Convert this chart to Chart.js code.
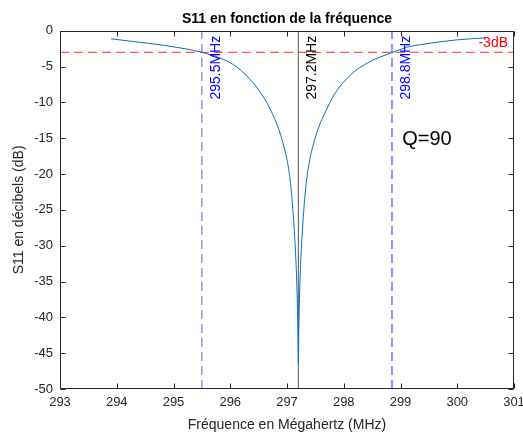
<!DOCTYPE html>
<html>
<head>
<meta charset="utf-8">
<script src="https://cdn.jsdelivr.net/npm/chart.js@4.4.1/dist/chart.umd.min.js"></script>
<style>
  html, body { margin: 0; padding: 0; background: #fff; }
  #wrap { width: 523px; height: 432px; position: relative; }
</style>
</head>
<body>
<div id="wrap"><canvas id="s11Chart"></canvas></div>
<script>
// fréquences (MHz)
const freqs = [293.9, 294.3, 294.9, 295.2, 295.5, 295.82, 296.06, 296.2, 296.35, 296.45,
               296.55, 296.65, 296.75, 296.82, 296.89, 296.95, 297.0, 297.04, 297.07, 297.1,
               297.125, 297.145, 297.16, 297.175, 297.185, 297.193, 297.2,
               297.207, 297.215, 297.225, 297.24, 297.255, 297.275, 297.3, 297.33, 297.36,
               297.4, 297.45, 297.51, 297.58, 297.65, 297.75, 297.81, 297.9, 298.04,
               298.2, 298.34, 298.5, 298.63, 298.87, 299.11, 299.3, 299.53, 300.0, 300.5];
// S11 en dB
const s11dB = [-1.12, -1.5, -2.1, -2.5, -3.0, -3.8, -4.75, -5.6, -6.8, -7.7,
               -8.8, -10.1, -11.7, -13.0, -14.6, -16.3, -18.0, -19.9, -21.9, -24.6,
               -27.4, -30.1, -32.6, -35.9, -39.0, -42.5, -46.4,
               -42.5, -39.0, -35.9, -32.6, -30.1, -27.4, -24.6, -21.9, -19.9,
               -18.0, -16.3, -14.6, -13.0, -11.8, -10.1, -9.2, -8.1, -6.8,
               -5.6, -4.85, -4.15, -3.7, -3.0, -2.3, -2.0, -1.72, -1.26, -0.98];

const xTicks = [293, 294, 295, 296, 297, 298, 299, 300, 301];
const yTicks = [-50, -45, -40, -35, -30, -25, -20, -15, -10, -5, 0];

const seuil = -3;                           // ligne -3dB
const bandFreqs = [295.5, 298.85];          // bornes à -3dB
const bandLabels = ['295.5MHz', '298.8MHz'];
const resFreq = 297.2;
const resLabel = '297.2MHz';
const qLabel = 'Q=90';

const FONT = "'Liberation Sans', Arial, Helvetica, sans-serif";
Chart.defaults.font.family = FONT;
Chart.defaults.color = '#262626';

const curve = freqs.map((f, i) => ({ x: f, y: s11dB[i] }));
const vline = (f) => [{ x: f, y: yTicks[0] }, { x: f, y: yTicks[yTicks.length - 1] }];

// cadre + graduations intérieures façon MATLAB, et textes
const boxPlugin = {
  id: 'boxPlugin',
  afterDatasetsDraw(chart) {
    const { ctx, chartArea: a, scales: { x, y } } = chart;
    ctx.save();

    // textes verticaux
    ctx.font = '14px ' + FONT;
    ctx.textAlign = 'left';
    ctx.textBaseline = 'alphabetic';
    const rot = (txt, f, col) => {
      ctx.save();
      ctx.translate(x.getPixelForValue(f) + 18, y.getPixelForValue(-9.6));
      ctx.rotate(-Math.PI / 2);
      ctx.fillStyle = col;
      ctx.fillText(txt, 0, 0);
      ctx.restore();
    };
    rot(bandLabels[0], bandFreqs[0], '#0000ff');
    rot(resLabel, resFreq, '#000000');
    rot(bandLabels[1], bandFreqs[1], '#0000ff');

    ctx.fillStyle = '#ff0000';
    ctx.textAlign = 'right';
    ctx.fillText('-3dB', a.right - 6, y.getPixelForValue(seuil) - 5);

    ctx.fillStyle = '#000000';
    ctx.font = '20px ' + FONT;
    ctx.textAlign = 'left';
    ctx.textBaseline = 'middle';
    ctx.fillText(qLabel, x.getPixelForValue(299.03), y.getPixelForValue(-15.2));

    // cadre
    const L = Math.round(a.left) + 0.5, R = Math.round(a.right) - 0.5;
    const T = Math.round(a.top) + 0.5, B = Math.round(a.bottom) - 0.5;
    ctx.strokeStyle = '#262626';
    ctx.lineWidth = 1;
    ctx.strokeRect(L, T, R - L, B - T);

    const tl = 5;
    ctx.beginPath();
    xTicks.forEach(v => {
      const px = Math.round(x.getPixelForValue(v)) + 0.5;
      ctx.moveTo(px, B); ctx.lineTo(px, B - tl);
      ctx.moveTo(px, T); ctx.lineTo(px, T + tl);
    });
    yTicks.forEach(v => {
      const py = Math.round(y.getPixelForValue(v)) + 0.5;
      ctx.moveTo(L, py); ctx.lineTo(L + tl, py);
      ctx.moveTo(R, py); ctx.lineTo(R - tl, py);
    });
    ctx.stroke();
    ctx.restore();
  }
};

const chart = new Chart(document.getElementById('s11Chart'), {
  type: 'scatter',
  data: {
    datasets: [
      { label: 'S11', data: curve, showLine: true, borderColor: '#0072BD', borderWidth: 1,
        pointRadius: 0, cubicInterpolationMode: 'monotone', order: 1 },
      { label: '-3dB', data: [{ x: xTicks[0], y: seuil }, { x: xTicks[xTicks.length - 1], y: seuil }],
        showLine: true, borderColor: '#ff2a2a', borderWidth: 1, borderDash: [9, 5], pointRadius: 0, order: 2 },
      { label: 'f1', data: vline(bandFreqs[0]), showLine: true, borderColor: '#5a5aff', borderWidth: 1,
        borderDash: [9, 5], pointRadius: 0, order: 2 },
      { label: 'f2', data: vline(bandFreqs[1]), showLine: true, borderColor: '#2a2aff', borderWidth: 1,
        borderDash: [9, 5], pointRadius: 0, order: 2 },
      { label: 'f0', data: vline(resFreq), showLine: true, borderColor: '#555555', borderWidth: 1,
        pointRadius: 0, order: 3 }
    ]
  },
  options: {
    responsive: true,
    maintainAspectRatio: false,
    animation: false,
    layout: { padding: { top: 0, right: 9, left: 0, bottom: 0 } },
    plugins: {
      legend: { display: false },
      tooltip: { enabled: false },
      title: {
        display: true,
        text: 'S11 en fonction de la fréquence',
        fullSize: false,
        color: '#000',
        font: { size: 14, weight: 'bold' },
        padding: { top: 11, bottom: 3 }
      }
    },
    scales: {
      x: {
        type: 'linear', min: xTicks[0], max: xTicks[xTicks.length - 1],
        grid: { display: false, drawTicks: false },
        border: { display: false },
        ticks: { stepSize: 1, padding: 6, maxRotation: 0, autoSkip: false, color: '#262626', font: { size: 13 } },
        title: { display: true, text: 'Fréquence en Mégahertz (MHz)', color: '#262626',
                 font: { size: 14, lineHeight: 1 }, padding: { top: 0, bottom: 0 } },
        afterFit(s) { s.height = 43; s.paddingLeft = 0; s.paddingRight = 0; }
      },
      y: {
        type: 'linear', min: yTicks[0], max: yTicks[yTicks.length - 1],
        grid: { display: false, drawTicks: false },
        border: { display: false },
        ticks: { stepSize: 5, padding: 7, color: '#262626', font: { size: 13 } },
        title: { display: true, text: 'S11 en décibels (dB)', color: '#262626',
                 font: { size: 14 }, padding: { top: 11, bottom: 0 } },
        afterFit(s) { s.width = 60; s.paddingTop = 0; s.paddingBottom = 0; }
      }
    }
  },
  plugins: [boxPlugin]
});
</script>
</body>
</html>
